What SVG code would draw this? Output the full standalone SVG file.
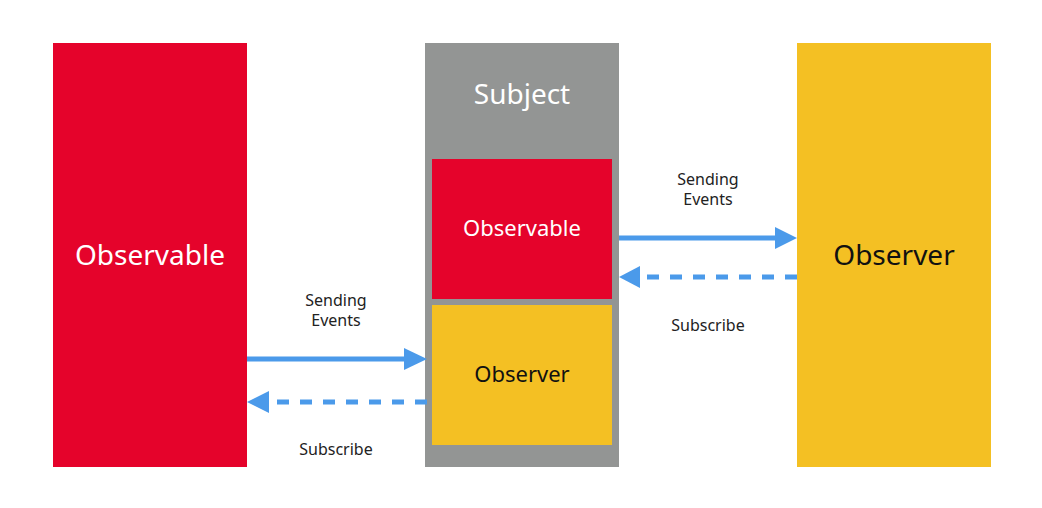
<svg xmlns="http://www.w3.org/2000/svg" width="1042" height="508" viewBox="0 0 1042 508">
<style>
.red{fill:#e5032b}
.yel{fill:#f4c023}
.grey{fill:#939594}
text{font-family:"Noto Sans","DejaVu Sans",sans-serif;text-anchor:middle}
.w{fill:#ffffff}
.b{fill:#111111}
.lbl{font-size:16px;fill:#222222}
.solid{stroke:#4b9aea;stroke-width:5;fill:none}
.dash{stroke:#4b9aea;stroke-width:5;fill:none;stroke-dasharray:12 11}
.head{fill:#4b9aea}
</style>
<rect width="1042" height="508" fill="#ffffff"/>
<g id="observable-left">
<rect class="red" x="53" y="43" width="194" height="424"/>
<text class="w" x="150" y="265" font-size="28">Observable</text>
</g>
<g id="subject">
<rect class="grey" x="425" y="43" width="194" height="424"/>
<text class="w" x="522" y="104" font-size="28">Subject</text>
</g>
<g id="subject-observable">
<rect class="red" x="432" y="159" width="180" height="140"/>
<text class="w" x="522" y="236" font-size="22">Observable</text>
</g>
<g id="subject-observer">
<rect class="yel" x="432" y="305" width="180" height="140"/>
<text class="b" x="522" y="382" font-size="22">Observer</text>
</g>
<g id="observer-right">
<rect class="yel" x="797" y="43" width="194" height="424"/>
<text class="b" x="894" y="265" font-size="28">Observer</text>
</g>
<g id="connectors">
<line class="solid" x1="247" y1="359" x2="406" y2="359"/>
<polygon class="head" points="404,348 427,359 404,370"/>
<line class="dash" x1="427" y1="402" x2="273" y2="402"/>
<polygon class="head" points="247,402 269,391 269,413"/>
<text class="lbl" x="336" y="306">Sending</text>
<text class="lbl" x="336" y="326">Events</text>
<text class="lbl" x="336" y="455">Subscribe</text>
<line class="solid" x1="619" y1="238" x2="777" y2="238"/>
<polygon class="head" points="775,227 797,238 775,249"/>
<line class="dash" x1="797" y1="277" x2="645" y2="277"/>
<polygon class="head" points="619,277 640,266 640,288"/>
<text class="lbl" x="708" y="185">Sending</text>
<text class="lbl" x="708" y="205">Events</text>
<text class="lbl" x="708" y="331">Subscribe</text>
</g>
</svg>
